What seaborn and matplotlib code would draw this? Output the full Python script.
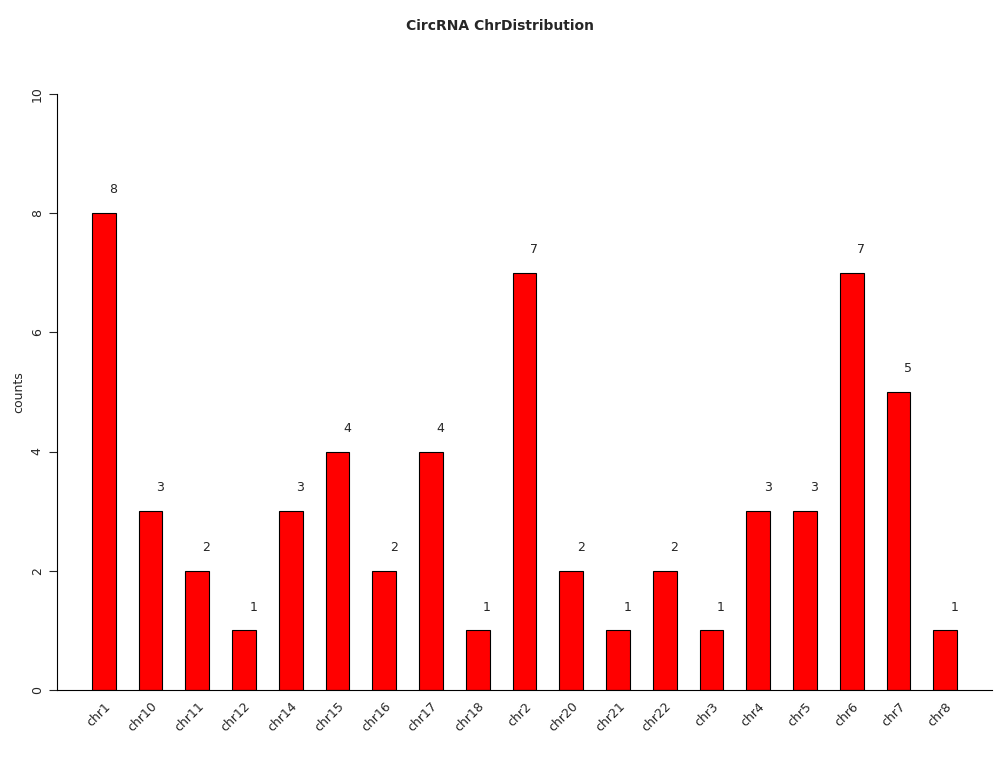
import matplotlib
matplotlib.use('Agg')
import matplotlib.pyplot as plt
import seaborn as sns
import pandas as pd

sns.set_style('white')

chroms = ['chr1', 'chr10', 'chr11', 'chr12', 'chr14', 'chr15', 'chr16', 'chr17', 'chr18',
          'chr2', 'chr20', 'chr21', 'chr22', 'chr3', 'chr4', 'chr5', 'chr6', 'chr7', 'chr8']
counts = [8, 3, 2, 1, 3, 4, 2, 4, 1, 7, 2, 1, 2, 1, 3, 3, 7, 5, 1]

df = pd.DataFrame({'chr': chroms, 'counts': counts})

fig = plt.figure(figsize=(9.99, 7.57), dpi=100)
ax = fig.add_axes([0.057, 0.0885, 0.936, 0.7875])
sns.barplot(data=df, x='chr', y='counts', color='red', saturation=1,
            edgecolor='black', linewidth=0.8, width=0.51, ax=ax)

for i, v in enumerate(counts):
    ax.text(i + 0.2, v + 0.39, str(v), ha='center', va='center', fontsize=9)

ax.set_xlim(-1, 19)
ax.set_ylim(0, 10)
ax.set_xlabel('')
ax.set_ylabel('counts', fontsize=9)
ax.set_yticks([0, 2, 4, 6, 8, 10])
ax.tick_params(axis='y', labelrotation=90, labelsize=9, left=True, length=6, width=0.8)
ax.tick_params(axis='x', labelsize=9, bottom=False)
for lab in ax.get_yticklabels():
    lab.set_va('center')
plt.setp(ax.get_xticklabels(), rotation=45, ha='right', rotation_mode='anchor')
ax.spines['top'].set_visible(False)
ax.spines['right'].set_visible(False)
ax.spines['left'].set_color('black')
ax.spines['bottom'].set_color('black')
fig.suptitle('CircRNA ChrDistribution', fontsize=10, fontweight='bold', y=0.975)

fig.savefig('out.png', dpi=100)
